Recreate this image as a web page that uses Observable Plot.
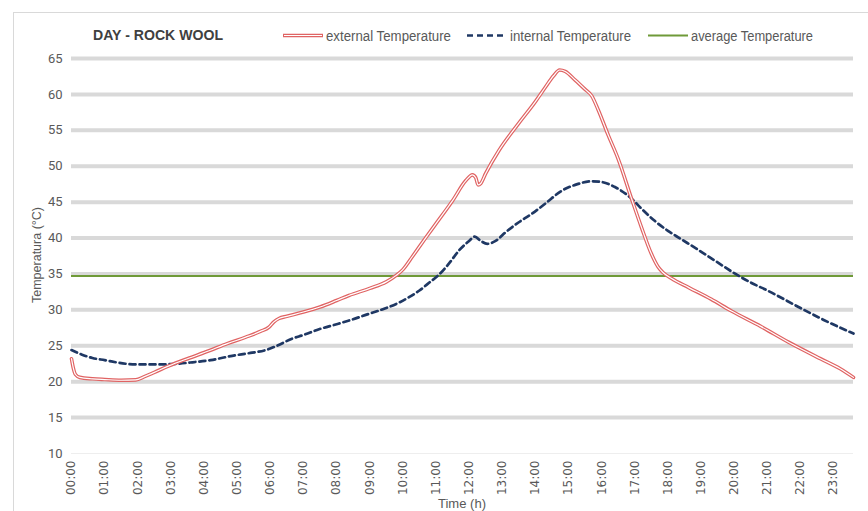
<!DOCTYPE html>
<html><head><meta charset="utf-8">
<script src="https://cdn.jsdelivr.net/npm/d3@7"></script>
<script src="https://cdn.jsdelivr.net/npm/@observablehq/plot@0.6"></script>
<style>
body{margin:0;background:#fff;}
#chart{position:relative;width:868px;height:511px;}
</style>
</head><body><div id="chart"></div>
<script>
// ---- data ----
const chartTitle = "DAY - ROCK WOOL";
const seriesNames = ["external Temperature", "internal Temperature", "average Temperature"];
const hoursExt = [0.00,0.05,0.12,0.25,0.63,1.0,1.5,1.94,2.2,2.5,2.94,3.5,4.15,4.7,5.26,5.7,5.96,6.1,6.26,6.5,7.0,7.5,8.0,8.37,9.0,9.5,9.8,10.0,10.3,10.7,11.0,11.5,11.9,12.1,12.2,12.27,12.35,12.5,12.9,13.5,14.0,14.3,14.55,14.73,14.9,15.2,15.5,15.7,15.9,16.2,16.5,16.9,17.2,17.5,17.7,17.85,18.1,18.63,19.3,19.93,20.8,21.64,22.6,23.2,23.6];
const tempExt  = [23.2,22.0,21.0,20.6,20.4,20.3,20.2,20.25,20.7,21.3,22.2,23.2,24.3,25.3,26.2,27.0,27.6,28.3,28.8,29.1,29.7,30.4,31.3,32.0,33.0,33.9,34.8,35.6,37.5,40.1,42.0,45.2,48.0,48.8,48.4,47.4,47.6,49.0,52.2,56.0,59.0,61.0,62.6,63.4,63.2,62.0,60.7,59.8,57.8,54.3,51.0,45.5,41.5,37.8,36.0,35.2,34.4,33.1,31.5,29.8,27.7,25.5,23.2,21.8,20.6];
const hoursInt = [0.0,0.3,0.63,1.0,1.63,2.1,2.64,3.2,3.65,4.2,4.85,5.4,5.86,6.2,6.66,7.0,7.47,8.0,8.5,8.88,9.4,9.88,10.2,10.5,10.8,11.09,11.4,11.7,12.0,12.17,12.35,12.55,12.8,13.1,13.5,13.9,14.3,14.8,15.2,15.7,16.0,16.4,16.9,17.2,17.6,18.0,18.38,18.9,19.5,20.04,20.5,21.0,21.94,22.7,23.6];
const tempInt  = [24.4,23.8,23.3,23.0,22.5,22.4,22.4,22.5,22.7,23.0,23.6,24.0,24.4,25.0,26.0,26.5,27.3,28.0,28.7,29.3,30.1,31.0,31.8,32.7,33.8,34.9,36.5,38.3,39.6,40.2,39.6,39.2,39.6,40.8,42.2,43.4,44.8,46.6,47.4,47.9,47.8,47.1,45.5,44.1,42.4,41.0,39.9,38.4,36.6,35.0,33.8,32.7,30.4,28.6,26.7];
const averageTemp = 34.7;
const yTicks = [10,15,20,25,30,35,40,45,50,55,60,65];
const gridValues = [15,20,25,30,35,40,45,50,55,60,65];
const xTickHours = [0,1,2,3,4,5,6,7,8,9,10,11,12,13,14,15,16,17,18,19,20,21,22,23];
const xTickLabels = ["00:00","01:00","02:00","03:00","04:00","05:00","06:00","07:00","08:00","09:00","10:00","11:00","12:00","13:00","14:00","15:00","16:00","17:00","18:00","19:00","20:00","21:00","22:00","23:00"];
const xAxisTitle = "Time (h)";
const yAxisTitle = "Temperatura (°C)";

// ---- styles ----
const RED = "#e06363", NAVY = "#1f3864", GREEN = "#6f9a38", GRID = "#d9d9d9", TXT = "#595959";
const SANS = "'Liberation Sans', Arial, sans-serif";

const ext = hoursExt.map((h, i) => ({h, t: tempExt[i]}));
const int = hoursInt.map((h, i) => ({h, t: tempInt[i]}));

const plot = Plot.plot({
  width: 868, height: 511,
  marginLeft: 71, marginRight: 15, marginTop: 58, marginBottom: 58,
  x: {domain: [0, 23.6]},
  y: {domain: [10, 65]},
  style: {fontFamily: "Roboto, sans-serif", background: "transparent", color: TXT, overflow: "visible"},
  marks: [
    Plot.ruleY(gridValues, {stroke: GRID, strokeWidth: 4}),
    Plot.ruleY([10], {stroke: "#eeeeee", strokeWidth: 1}),
    Plot.ruleY([averageTemp], {stroke: GREEN, strokeWidth: 2}),
    Plot.line(int, {x: "h", y: "t", stroke: NAVY, strokeWidth: 2.7, strokeDasharray: "6,4", curve: "monotone-x"}),
    Plot.line(ext, {x: "h", y: "t", stroke: RED, strokeWidth: 3.6, curve: "monotone-x"}),
    Plot.line(ext, {x: "h", y: "t", stroke: "white", strokeWidth: 1.2, curve: "monotone-x"}),
    Plot.axisY({ticks: yTicks, tickSize: 0, tickPadding: 9, fontSize: 13, label: null}),
    Plot.axisX({ticks: xTickHours, tickFormat: d => xTickLabels[d], tickRotate: -90, tickSize: 0, tickPadding: 7, fontSize: 12, fontFamily: "DejaVu Sans, sans-serif", label: null})
  ]
});
document.getElementById("chart").appendChild(plot);

// ---- frame, title, legend, axis titles ----
const svg = d3.select(plot);
svg.insert("rect", ":first-child").attr("x", 13.5).attr("y", 12.5).attr("width", 900).attr("height", 600)
  .attr("fill", "white").attr("stroke", "#d9d9d9").attr("stroke-width", 1);

svg.append("text").attr("x", 93).attr("y", 40).attr("text-anchor", "start").text(chartTitle)
  .attr("font-family", SANS).attr("font-weight", "bold").attr("font-size", 15.5).attr("fill", "#404040")
  .attr("textLength", 130).attr("lengthAdjust", "spacingAndGlyphs");

const legendItems = [
  {x: 283, w: 125, name: seriesNames[0], kind: "ext"},
  {x: 467, w: 121, name: seriesNames[1], kind: "int"},
  {x: 648, w: 122, name: seriesNames[2], kind: "avg"}
];
const lg = svg.append("g").attr("font-family", SANS).attr("font-size", 14).attr("fill", TXT).attr("text-anchor", "start");
for (const it of legendItems) {
  const y = 35.5;
  if (it.kind === "ext") {
    lg.append("line").attr("x1", it.x).attr("x2", it.x + 40).attr("y1", y).attr("y2", y).attr("stroke", RED).attr("stroke-width", 3.6);
    lg.append("line").attr("x1", it.x + 1).attr("x2", it.x + 39).attr("y1", y).attr("y2", y).attr("stroke", "white").attr("stroke-width", 1.2);
  } else if (it.kind === "int") {
    lg.append("line").attr("x1", it.x).attr("x2", it.x + 40).attr("y1", y).attr("y2", y).attr("stroke", NAVY).attr("stroke-width", 2.7).attr("stroke-dasharray", "6,4");
  } else {
    lg.append("line").attr("x1", it.x).attr("x2", it.x + 40).attr("y1", y).attr("y2", y).attr("stroke", GREEN).attr("stroke-width", 2);
  }
  lg.append("text").attr("x", it.x + 43).attr("y", y + 5).text(it.name)
    .attr("textLength", it.w).attr("lengthAdjust", "spacingAndGlyphs");
}

svg.append("text").attr("transform", "translate(41,255) rotate(-90)").attr("text-anchor", "middle")
  .attr("font-family", SANS).attr("font-size", 13).attr("fill", TXT).text(yAxisTitle)
  .attr("textLength", 96).attr("lengthAdjust", "spacingAndGlyphs");
svg.append("text").attr("x", 462).attr("y", 508).attr("text-anchor", "middle")
  .attr("font-family", SANS).attr("font-size", 13).attr("fill", TXT).text(xAxisTitle)
  .attr("textLength", 48).attr("lengthAdjust", "spacingAndGlyphs");
</script>
</body></html>
